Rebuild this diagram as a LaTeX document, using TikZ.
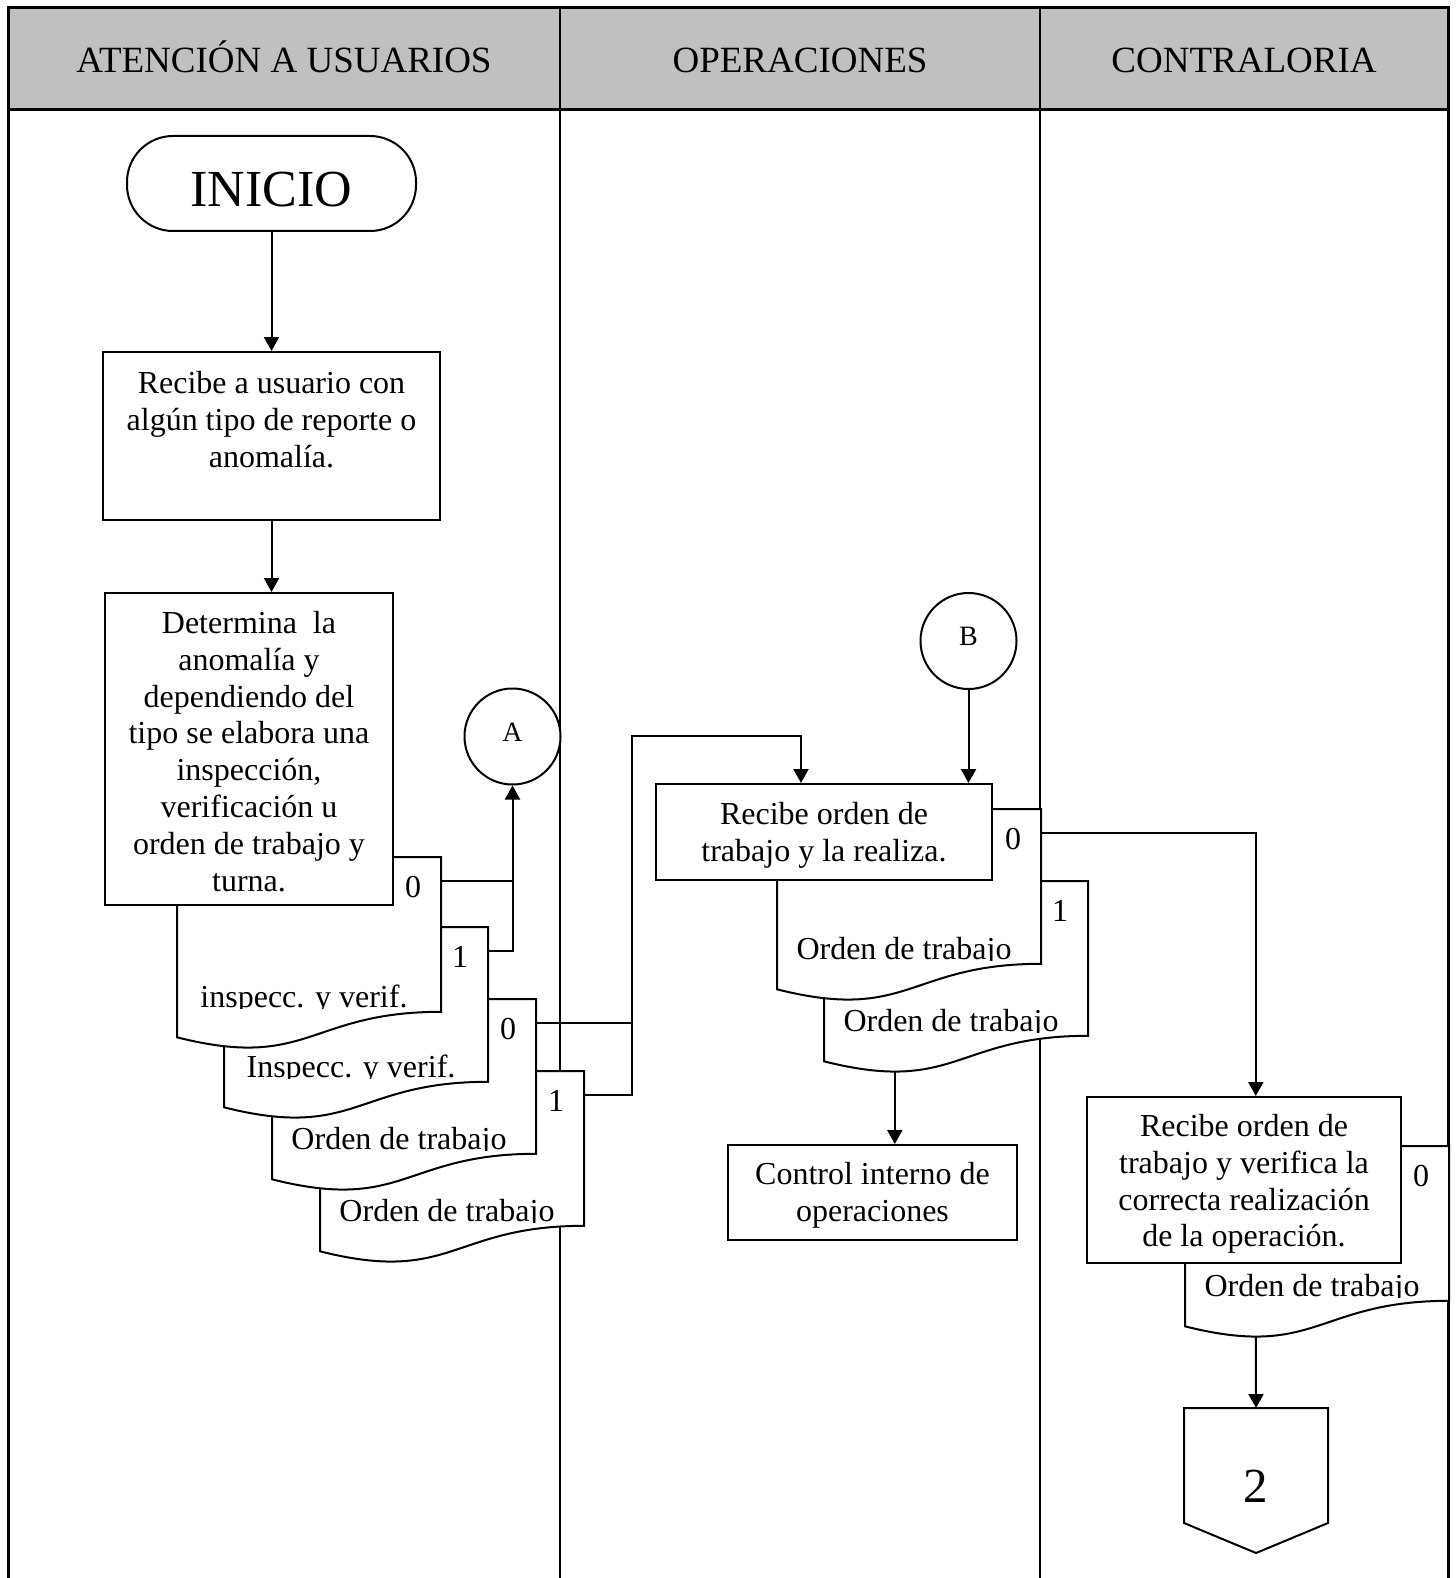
\documentclass[tikz,border=0pt]{standalone}
\usepackage{fontspec}
\setmainfont{Liberation Serif}
\usetikzlibrary{arrows.meta,calc}
\definecolor{hgray}{RGB}{192,192,192}
\newcommand\fl{\rule{0pt}{13pt}}
\newcommand\docshape[5]{%
  \node[docarea, anchor=north west] (#1) at (#2,#3) {};
  \draw[ln, fill=white] (#2,#3) -- ({#2+264},#3) -- ({#2+264},{#3+154.8})
     .. controls ({#2+132},{#3+154.8}) and ({#2+132},{#3+213.7}) .. ({#2},{#3+180.3}) -- cycle;
  \begin{scope}
    \clip (#2,#3) rectangle ({#2+264},{#3+151.5});
    \node[doctext, anchor=base] (#1-t) at ({#2+127},{#3+150}) {#4};
  \end{scope}
  \node[doctext, anchor=base] (#1-n) at ({#2+236},{#3+40.5}) {#5};
  \coordinate (#1-out) at ({#2+264},{#3+24});
  \coordinate (#1-low) at ({#2+70.8},{#3+190.7});
}
\begin{document}
\begin{tikzpicture}[x=0.5pt,y=-0.5pt,
  ln/.style={line width=1pt},
  arr/.style={line width=1pt,-{Triangle[length=7pt,width=7.5pt]}},
  box/.style={draw,line width=1pt,fill=white,inner sep=0pt},
  txt/.style={font=\fontsize{16pt}{18.4pt}\selectfont,align=center,inner sep=0pt,anchor=north},
  hdr/.style={font=\fontsize{18.5pt}{22pt}\selectfont,inner sep=0pt,anchor=base},
  doctext/.style={font=\fontsize{16pt}{18.4pt}\selectfont,inner sep=0pt},
  docarea/.style={inner sep=0pt,minimum width=132pt,minimum height=77.4pt},
  conn/.style={draw,circle,line width=1pt,fill=white,minimum size=48pt,inner sep=0pt,font=\fontsize{14pt}{16pt}\selectfont,text depth=4.5pt},
  framel/.style={line width=1.5pt},
  lane/.style={line width=1.2pt}]

\useasboundingbox (0,0) rectangle (1455,1578);
% header and lanes
\fill[hgray] (8,8) rectangle (1448,110);
\draw[lane] (560,8) -- (560,1578);
\draw[lane] (1040,8) -- (1040,1578);
\draw[framel] (8,1578) -- (8,8) -- (1448,8) -- (1448,1578);
\draw[framel] (8,110) -- (1448,110);
\node[hdr] (h1) at (284,73) {ATENCIÓN A USUARIOS};
\node[hdr] (h2) at (800,73) {OPERACIONES};
\node[hdr] (h3) at (1244,73) {CONTRALORIA};

% left lane
\node[box, rounded corners=23pt, minimum width=144.5pt, minimum height=47.5pt] (inicio) at (271.5,183.5) {};
\node[font=\fontsize{26pt}{30pt}\selectfont, inner sep=0pt, anchor=base] (inicio-t) at (271.5,207) {INICIO};

\node[box, minimum width=168.5pt, minimum height=84pt] (recibe) at (271.5,436) {};
\node[txt] (recibe-t) at (271.5,367) {\fl Recibe a usuario con\\algún tipo de reporte o\\anomalía.};
\draw[arr] (inicio.south) -- (recibe.north);

\docshape{d4}{320}{1071}{Orden de trabajo}{1}
\docshape{d3}{272}{999}{Orden de trabajo}{0}
\docshape{d2}{224}{927}{Inspecc. y verif.}{1}
\docshape{d1}{177}{857}{inspecc. y verif.}{0}

\node[box, minimum width=144pt, minimum height=156pt] (det) at (249,749) {};
\node[txt] (det-t) at (249,607) {\fl Determina\ \ la\\anomalía y\\dependiendo del\\tipo se elabora una\\inspección,\\verificación u\\orden de trabajo y\\turna.};
\draw[arr] (recibe.south) -- (recibe.south |- det.north);

\node[conn] (A) at (512.5,736.5) {A};
\draw[ln] (d1-out) -- (d1-out -| A.south);
\draw[arr] (d2-out) -| (A.south);

% middle lane
\docshape{m2}{824}{881}{Orden de trabajo}{1}
\docshape{m1}{777}{809}{Orden de trabajo}{0}
\node[box, minimum width=168pt, minimum height=48pt] (rec) at (824,832) {};
\node[txt] (rec-t) at (824,798) {\fl Recibe orden de\\trabajo y la realiza.};
\coordinate (recin) at ($(rec.north)+(-23,0)$);
\coordinate (j1) at (632,736);
\draw[ln] (d3-out) -- (d3-out -| j1);
\draw[arr] (d4-out) -| (j1) -| (recin);

\node[conn] (B) at (968.5,641) {B};
\draw[arr] (B.south) -- (B.south |- rec.north);

\node[box, minimum width=144.5pt, minimum height=47.5pt] (ctl) at (872.5,1192.5) {};
\node[txt] (ctl-t) at (872.5,1158) {\fl Control interno de\\operaciones};
\draw[arr] (m2-low) -- (m2-low |- ctl.north);

% right lane
\docshape{r1}{1185}{1146}{Orden de trabajo}{0}
\node[box, minimum width=157pt, minimum height=83pt] (ver) at (1244,1180) {};
\node[txt] (ver-t) at (1244,1110) {\fl Recibe orden de\\trabajo y verifica la\\correcta realización\\de la operación.};
\draw[arr] (m1-out) -| (r1-low |- ver.north);

\draw[ln, fill=white] (1184,1408) -- (1328,1408) -- (1328,1523) -- (1256,1553) -- (1184,1523) -- cycle;
\coordinate (offtop) at (1256,1408);
\node[font=\fontsize{24.5pt}{28pt}\selectfont, inner sep=0pt, anchor=base] (two) at (1256,1502) {2};
\draw[arr] (r1-low) -- (offtop);
\end{tikzpicture}
\end{document}
